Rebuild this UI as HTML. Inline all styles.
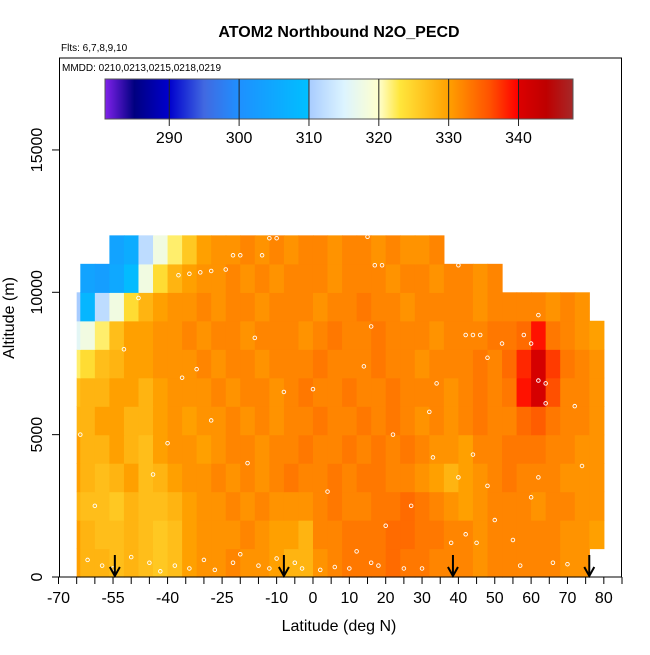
<!DOCTYPE html>
<html><head><meta charset="utf-8"><style>
body{margin:0;background:#fff}
svg text{font-family:"Liberation Sans",sans-serif}
</style></head><body>
<svg id="chart" width="650" height="650" xmlns="http://www.w3.org/2000/svg">
<rect width="650" height="650" fill="#fff"/>
<g id="heat"></g>
<g id="pts"></g>
<g id="axes"></g>
<g id="cbar"></g>
<text x="339" y="37" text-anchor="middle" font-size="16" font-weight="bold">ATOM2 Northbound N2O_PECD</text>
<text x="61" y="51" font-size="10">Flts: 6,7,8,9,10</text>
<text x="62" y="71" font-size="10">MMDD: 0210,0213,0215,0218,0219</text>
<text x="339" y="631" text-anchor="middle" font-size="16">Latitude (deg N)</text>
<text transform="translate(14,318) rotate(-90)" text-anchor="middle" font-size="16">Altitude (m)</text>
</svg>
<script>
const latEdges0 = -68, latStep = 4, latMin = -65, latMax = 80.3;
const altStep = 1000;
const n = null;
// rows bottom (0-1000 m) to top (11000-12000 m); columns lat -68..80 step 4
const row0 = [330,328,328,327,328,327,326,327,330,331,331,332,331,331,330,328,328,331,332,333,333,333,334,333,333,332,332,332,331,332,332,332,332,332,331,331,n];
const row1 = [330,328,327,327,328,327,326,327,330,331,331,331,332,331,330,330,328,332,332,333,333,333,334,334,333,333,332,332,331,332,332,332,332,332,331,331,330];
const row2 = [328,327,327,326,328,327,327,328,330,331,331,332,331,332,331,331,331,332,333,332,332,333,333,334,333,332,331,330,331,332,332,332,331,332,332,331,331];
const row3 = [330,328,327,328,330,327,328,330,331,331,332,331,332,331,332,333,332,332,333,332,333,333,332,332,331,330,328,330,331,332,333,332,332,332,331,331,331];
const row4 = [330,328,328,330,328,327,330,331,331,330,331,332,332,331,332,332,333,332,332,333,332,333,332,333,332,331,331,330,332,332,333,333,333,332,332,331,331];
const row5 = [328,328,330,330,328,328,330,331,330,331,331,332,331,332,331,332,332,333,332,332,333,332,333,332,331,332,331,332,333,332,332,334,335,333,332,332,331];
const row6 = [327,328,328,330,330,328,330,331,331,331,332,331,332,332,331,332,333,332,332,333,332,332,333,332,332,332,331,332,333,332,333,339,341,336,332,332,331];
const row7 = [322,324,327,328,330,330,331,331,331,332,331,332,332,331,332,332,332,333,332,332,332,333,332,332,331,332,332,332,333,332,334,338,341,337,333,332,331];
const row8 = [316,318,322,327,330,330,331,331,332,331,332,332,331,332,332,332,331,332,333,332,332,333,332,332,332,331,332,332,332,333,333,334,339,333,332,331,330];
const row9 = [310,308,312,318,324,328,330,331,331,332,331,332,332,331,332,332,332,331,332,332,333,332,332,331,332,332,332,332,331,332,332,332,332,331,332,331,n];
const row10 = [n,304,303,305,309,318,324,328,330,331,331,332,331,332,331,332,332,332,331,332,332,332,331,332,332,331,332,332,331,332,n,n,n,n,n,n,n];
const row11 = [n,n,n,304,306,312,318,322,326,330,331,331,332,331,332,331,332,332,331,332,332,331,332,331,331,332,n,n,n,n,n,n,n,n,n,n,n];
const rows = [row0,row1,row2,row3,row4,row5,row6,row7,row8,row9,row10,row11];
const colorTicks = [290,300,310,320,330,340];
const xTickLabels = [-70,-55,-40,-25,-10,0,10,20,30,40,50,60,70,80];
const yTickLabels = [0,5000,10000,15000];
const arrowLats = [-54.5,-8,38.5,76];
const ptLat = [-62,-58,-55,-50,-45,-42,-38,-34,-30,-27,-22,-20,-15,-12,-10,-5,-3,2,6,10,12,16,18,20,25,27,30,33,38,40,42,45,48,50,55,57,60,62,66,70,72,-60,-52,-44,-36,-28,-18,-8,4,14,22,34,44,52,64,74,-64,-48,-32,-16,0,16,32,48,62,-40,-37,-34,-31,-28,-24,-22,-20,-14,-12,-10,15,17,19,40,42,44,46,58,60,62,64];
const ptAlt = [600,400,300,700,500,200,400,300,600,250,500,800,400,300,650,500,300,250,350,300,900,500,400,1800,300,2500,300,4200,1200,3500,1500,1200,3200,2000,1300,400,2800,3500,500,450,6000,2500,8000,3600,7000,5500,4000,6500,3000,7400,5000,6800,4300,8200,6100,3900,5000,9800,7300,8400,6600,8800,5800,7700,9200,4700,10600,10650,10700,10750,10800,11300,11300,11300,11900,11900,11950,10950,10950,10950,8500,8500,8500,8500,8200,6900,6800,6800];

const X0=58.5, X1=622, LAT0=-70, LAT1=85, Y0=577, PXA=0.02847;
const xs = v => X0 + (v-LAT0)*(X1-X0)/(LAT1-LAT0);
const ys = a => Y0 - a*PXA;
const NS='http://www.w3.org/2000/svg';
function mk(tag, attrs, parent){const e=document.createElementNS(NS,tag);for(const k in attrs)e.setAttribute(k,attrs[k]);parent.appendChild(e);return e;}

const stops=[[281,[122,32,230]],[285,[0,0,128]],[290,[0,0,205]],[295,[65,105,225]],[300,[30,144,255]],[309.9,[0,191,255]],[310,[168,204,255]],[315,[220,244,255]],[320,[255,255,205]],[323,[255,230,60]],[330,[255,160,0]],[336,[255,80,0]],[339.9,[255,0,0]],[340,[220,0,0]],[344,[190,0,0]],[348,[165,42,42]]];
function col(v){
  if(v<=stops[0][0])return 'rgb('+stops[0][1]+')';
  for(let i=1;i<stops.length;i++){if(v<=stops[i][0]){const [a,ca]=stops[i-1],[b,cb]=stops[i];const t=(v-a)/(b-a);return 'rgb('+ca.map((c,j)=>Math.round(c+(cb[j]-c)*t)).join(',')+')';}}
  return 'rgb('+stops[stops.length-1][1]+')';
}

const heat=document.getElementById('heat');
rows.forEach((r,ri)=>{r.forEach((v,ci)=>{if(v===null)return;
  const la=Math.max(latEdges0+ci*latStep,latMin), lb=Math.min(latEdges0+(ci+1)*latStep,latMax);
  const c=mk('rect',{x:xs(la),y:ys((ri+1)*altStep),width:xs(lb)-xs(la)+0.6,height:ys(ri*altStep)-ys((ri+1)*altStep)+0.6,fill:col(v)},heat);
  
  
});});

const pts=document.getElementById('pts');
ptLat.forEach((la,i)=>{const c=mk('circle',{cx:xs(la),cy:ys(ptAlt[i]),r:1.8,fill:'none',stroke:'#fff','stroke-width':0.9},pts);
  
  
});

const ax=document.getElementById('axes');
const box=mk('rect',{x:59.5,y:58,width:562,height:Y0-58,fill:'none',stroke:'#000','stroke-width':1},ax);


for(let v=-70;v<=85;v+=5){const t=mk('line',{x1:xs(v),x2:xs(v),y1:Y0,y2:Y0+7,stroke:'#000'},ax);
  
  }
xTickLabels.forEach(v=>{const t=mk('text',{x:xs(v),y:603,'text-anchor':'middle','font-size':16},ax);t.textContent=v;
  
  });
yTickLabels.forEach(v=>{const l=mk('line',{x1:52,x2:59.5,y1:ys(v),y2:ys(v),stroke:'#000'},ax);
  
  
  const t=mk('text',{transform:'translate(42,'+ys(v)+') rotate(-90)','text-anchor':'middle','font-size':16},ax);t.textContent=v;
  
  });
arrowLats.forEach(v=>{const g=mk('g',{},ax);
  
  
  mk('line',{x1:xs(v),x2:xs(v),y1:555,y2:576,stroke:'#000','stroke-width':2},g);
  mk('path',{d:`M${xs(v)-5},567 L${xs(v)},576 L${xs(v)+5},567`,fill:'none',stroke:'#000','stroke-width':2},g);});

const cb=document.getElementById('cbar');
const CB0=105,CB1=573,CV0=280.8,CV1=347.8;
const cx=v=>CB0+(v-CV0)*(CB1-CB0)/(CV1-CV0);
for(let p=CB0;p<CB1;p+=1){const v=CV0+(p+0.5-CB0)*(CV1-CV0)/(CB1-CB0);mk('rect',{x:p,y:79,width:1.2,height:40,fill:col(v)},cb);}
mk('rect',{x:CB0,y:79,width:CB1-CB0,height:40,fill:'none',stroke:'#555','stroke-width':1},cb);
colorTicks.forEach(v=>{const l=mk('line',{x1:cx(v),x2:cx(v),y1:79,y2:126,stroke:'#222'},cb);
  
  
  const t=mk('text',{x:cx(v),y:143,'text-anchor':'middle','font-size':16},cb);t.textContent=v;
  
  });
</script>
</body></html>
